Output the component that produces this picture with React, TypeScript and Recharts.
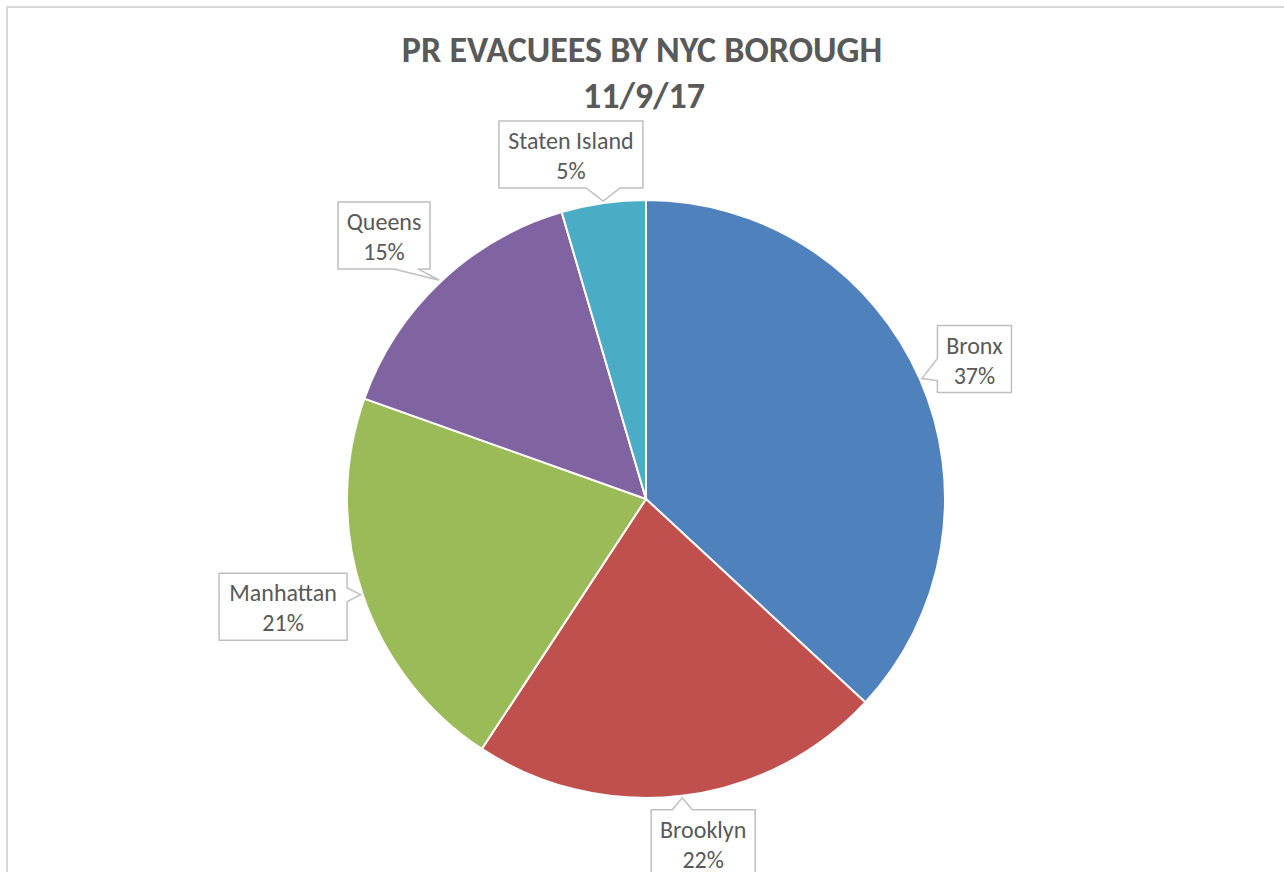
import React from "react";
import { PieChart, Pie, Cell } from "recharts";

const TITLE_LINES = ["PR EVACUEES BY NYC BOROUGH", "11/9/17"];
const BOROUGHS = ["Bronx", "Brooklyn", "Manhattan", "Queens", "Staten Island"];
const SHARES = [36.9, 22.35, 21.2, 15.0, 4.55];
const COLORS = ["#4F81BD", "#C0504D", "#9BBB59", "#8064A2", "#4BACC6"];

// callout layout: distance of box centre from pie centre, angle tweak (deg), box width, pointer side, pointer half-base
const CALLOUTS = [
  { dist: 357, adj: -0.5, w: 74, side: "left", hw: 11 },
  { dist: 349, adj: 2.5, w: 104, side: "top", hw: 10 },
  { dist: 378.6, adj: -2.0, w: 128, side: "right", hw: 7 },
  { dist: 371.6, adj: 1.45, w: 92, side: "bottom", hw: 12 },
  { dist: 352.6, adj: 4.1, w: 144, side: "bottom", hw: 17 },
];

const data = BOROUGHS.map((name, i) => ({ name, value: SHARES[i] }));

const FONT = "Carlito, Lato, 'Open Sans', sans-serif";
const RAD = Math.PI / 180;
const polar = (cx: number, cy: number, r: number, a: number) => ({
  x: cx + r * Math.cos(-a * RAD),
  y: cy + r * Math.sin(-a * RAD),
});
const clamp = (v: number, lo: number, hi: number) => Math.max(lo, Math.min(hi, v));

const renderLabel = (props: any) => {
  const { cx, cy, midAngle, outerRadius, index, percent, name } = props;
  const c = CALLOUTS[index];
  const h = 67;
  const center = polar(cx, cy, c.dist, midAngle + c.adj);
  const tip = polar(cx, cy, outerRadius + 2, midAngle);
  const x0 = center.x - c.w / 2;
  const x1 = center.x + c.w / 2;
  const y0 = center.y - h / 2;
  const y1 = center.y + h / 2;
  const m = 12;
  let d = "";
  if (c.side === "top") {
    const p = clamp(tip.x, x0 + c.hw + m, x1 - c.hw - m);
    d = `M${x0},${y0} L${p - c.hw},${y0} L${tip.x},${tip.y} L${p + c.hw},${y0} L${x1},${y0} L${x1},${y1} L${x0},${y1} Z`;
  } else if (c.side === "right") {
    const p = clamp(tip.y, y0 + c.hw + m, y1 - c.hw - m);
    d = `M${x0},${y0} L${x1},${y0} L${x1},${p - c.hw} L${tip.x},${tip.y} L${x1},${p + c.hw} L${x1},${y1} L${x0},${y1} Z`;
  } else if (c.side === "bottom") {
    const p = clamp(tip.x, x0 + c.hw + m, x1 - c.hw - m);
    d = `M${x0},${y0} L${x1},${y0} L${x1},${y1} L${p + c.hw},${y1} L${tip.x},${tip.y} L${p - c.hw},${y1} L${x0},${y1} Z`;
  } else {
    const p = clamp(tip.y, y0 + c.hw + m, y1 - c.hw - m);
    d = `M${x0},${y0} L${x1},${y0} L${x1},${y1} L${x0},${y1} L${x0},${p + c.hw} L${tip.x},${tip.y} L${x0},${p - c.hw} Z`;
  }
  return (
    <g key={`lbl-${index}`}>
      <path d={d} fill="#ffffff" stroke="#bfbfbf" strokeWidth={1.5} />
      <text
        x={center.x}
        y={y0 + 28}
        textAnchor="middle"
        fill="#595959"
        fontSize={24}
        fontFamily={FONT}
      >
        {name}
      </text>
      <text
        x={center.x}
        y={y0 + 58}
        textAnchor="middle"
        fill="#595959"
        fontSize={24}
        fontFamily={FONT}
      >
        {`${Math.round(percent * 100)}%`}
      </text>
    </g>
  );
};

export default function App() {
  return (
    <div
      style={{
        position: "absolute",
        left: 0,
        top: 0,
        width: 1284,
        height: 872,
        overflow: "hidden",
        background: "#ffffff",
      }}
    >
      <div
        style={{
          position: "absolute",
          left: 6,
          top: 6,
          width: 1320,
          height: 920,
          border: "2px solid #d9d9d9",
          boxSizing: "border-box",
        }}
      />
      <div style={{ position: "absolute", left: 0, top: 0 }}>
        <PieChart width={1284} height={872} margin={{ top: 0, right: 0, bottom: 0, left: 0 }}>
          <Pie
            data={data}
            dataKey="value"
            nameKey="name"
            cx={646}
            cy={499}
            outerRadius={299}
            startAngle={90}
            endAngle={-270}
            stroke="#ffffff"
            strokeWidth={2}
            label={renderLabel}
            labelLine={false}
            isAnimationActive={false}
          >
            {data.map((d, i) => (
              <Cell key={d.name} fill={COLORS[i]} />
            ))}
          </Pie>
        </PieChart>
      </div>
      <svg
        width={1284}
        height={872}
        style={{ position: "absolute", left: 0, top: 0, pointerEvents: "none" }}
      >
        <text x={642} y={62} textAnchor="middle" fill="#595959" fontSize={36} fontWeight="bold" fontFamily={FONT}>
          {TITLE_LINES[0]}
        </text>
        <text x={644} y={108} textAnchor="middle" fill="#595959" fontSize={36} fontWeight="bold" fontFamily={FONT}>
          {TITLE_LINES[1]}
        </text>
      </svg>
    </div>
  );
}
